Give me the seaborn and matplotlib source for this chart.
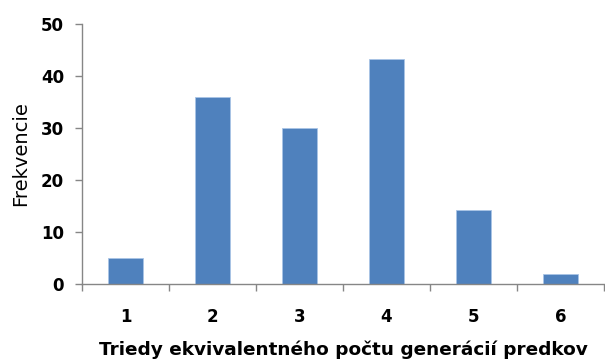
import matplotlib
matplotlib.use("Agg")
import matplotlib.pyplot as plt
import seaborn as sns
import pandas as pd
import numpy as np

categories = ["1", "2", "3", "4", "5", "6"]
values = [5, 36, 30, 43.3, 14.2, 2]
y_ticks = [0, 10, 20, 30, 40, 50]

sns.set_theme(style="white")
plt.rcParams['font.family'] = ['DejaVu Sans']

df = pd.DataFrame({"cat": categories, "val": values})

fig = plt.figure(figsize=(6.05, 3.63), dpi=100)
ax = fig.add_axes([82/605, 79/363, 522/605, 260/363])
sns.barplot(data=df, x="cat", y="val", color="#4F81BD", saturation=1, width=0.4, ax=ax,
            edgecolor="#A9C4E6", linewidth=0.6)

ax.set_ylim(0, 50)
ax.set_xlim(-0.5, 5.5)
ax.set_yticks(y_ticks)
ax.set_yticklabels([str(t) for t in y_ticks], fontweight="bold", fontsize=12, color="#000000")
ax.set_xticks(range(len(categories)))
ax.set_xticklabels(categories, fontweight="bold", fontsize=12, color="#000000")
ax.set_xticks(np.arange(-0.5, 6.0, 1.0), minor=True)
ax.tick_params(axis="x", which="major", length=0, pad=17)
ax.tick_params(axis="x", which="minor", length=5, width=1, color="#868686", direction="out", bottom=True)
ax.tick_params(axis="y", which="major", length=5, width=1, color="#868686", direction="out", left=True, pad=8)

for s in ["top", "right"]:
    ax.spines[s].set_visible(False)
for s in ["left", "bottom"]:
    ax.spines[s].set_color("#868686")
    ax.spines[s].set_linewidth(1)

ax.set_ylabel("Frekvencie", fontsize=14, color="#000000", labelpad=8)
ax.set_xlabel("Triedy ekvivalentného počtu generácií predkov", fontsize=13.3, fontweight="bold",
              color="#000000", labelpad=11)

fig.savefig("out.png", dpi=100)
